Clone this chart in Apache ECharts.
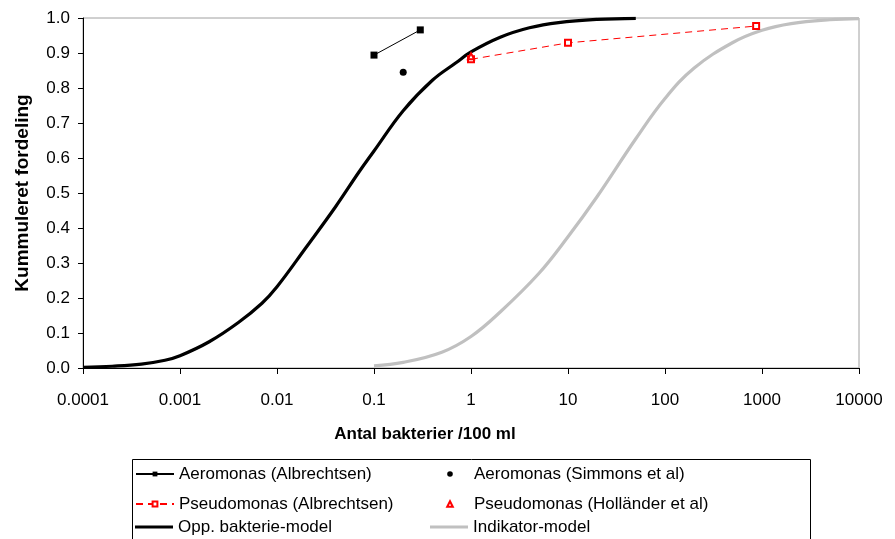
<!DOCTYPE html>
<html>
<head>
<meta charset="utf-8">
<script src="https://cdn.jsdelivr.net/npm/echarts@6/dist/echarts.min.js"></script>
<style>
  html, body { margin: 0; padding: 0; background: #fff; }
  #chart { width: 895px; height: 539px; }
</style>
</head>
<body>
<div id="chart"></div>
<script>
// Tick labels
const xTickLabels = ['0.0001', '0.001', '0.01', '0.1', '1', '10', '100', '1000', '10000'];
const yTickLabels = ['0.0', '0.1', '0.2', '0.3', '0.4', '0.5', '0.6', '0.7', '0.8', '0.9', '1.0'];

// Observed data
const aeroAlbX = [0.1, 0.3];
const aeroAlbY = [0.894, 0.966];
const aeroSimX = [0.2];
const aeroSimY = [0.845];
const pseuAlbX = [1, 10, 870];
const pseuAlbY = [0.882, 0.929, 0.977];
const pseuHolX = [1];
const pseuHolY = [0.891];

// Model curves
const oppX = [0.0001, 0.0002, 0.0004, 0.0007, 0.001, 0.002, 0.004, 0.007, 0.01, 0.02, 0.04, 0.07, 0.1, 0.2, 0.4, 0.7, 1, 2, 4, 8, 20, 50];
const oppY = [0.002, 0.005, 0.011, 0.022, 0.035, 0.075, 0.13, 0.185, 0.232, 0.345, 0.46, 0.56, 0.62, 0.735, 0.822, 0.872, 0.903, 0.945, 0.972, 0.987, 0.996, 0.999];
const indX = [0.1, 0.2, 0.5, 1, 2, 5, 10, 20, 50, 100, 200, 500, 1000, 2000, 5000, 10000];
const indY = [0.006, 0.016, 0.045, 0.09, 0.16, 0.27, 0.375, 0.49, 0.655, 0.77, 0.857, 0.93, 0.965, 0.984, 0.995, 0.998];

const names = [
  'Aeromonas (Albrechtsen)', 'Aeromonas (Simmons et al)',
  'Pseudomonas (Albrechtsen)', 'Pseudomonas (Holländer et al)',
  'Opp. bakterie-model', 'Indikator-model'
];

const zip = (xs, ys) => xs.map((x, i) => [x, ys[i]]);
const FONT = '"Liberation Sans", Arial, sans-serif';

const chart = echarts.init(document.getElementById('chart'), null, { renderer: 'canvas' });

// One legend component per cell of the 3x2 legend table
const colLeft = [135, 430];
const rowTop = [465.5, 495.5, 518.5];
const legendCfg = [
  { name: names[0], itemHeight: 6 },
  { name: names[1], itemHeight: 7, lineStyle: { opacity: 0 } },
  { name: names[2], itemHeight: 6 },
  { name: names[3], itemHeight: 7, lineStyle: { opacity: 0 } },
  { name: names[4], itemHeight: 3, icon: 'rect' },
  { name: names[5], itemHeight: 3, icon: 'rect' }
];
const legends = legendCfg.map((c, i) => {
  const lg = {
    left: colLeft[i % 2],
    top: rowTop[Math.floor(i / 2)],
    padding: 0,
    orient: 'horizontal',
    itemWidth: 38,
    itemHeight: c.itemHeight,
    selectedMode: false,
    textStyle: { fontFamily: FONT, fontSize: 17, color: '#000' },
    data: [c.icon ? { name: c.name, icon: c.icon } : { name: c.name }]
  };
  if (c.lineStyle) lg.lineStyle = c.lineStyle;
  return lg;
});

const option = {
  backgroundColor: '#fff',
  animation: false,
  grid: {
    left: 83, top: 18, width: 776, height: 350,
    show: true, borderColor: '#a0a0a0', borderWidth: 1, backgroundColor: 'transparent'
  },
  xAxis: {
    type: 'log', logBase: 10, min: 0.0001, max: 10000,
    axisLine: { show: true, onZero: false, lineStyle: { color: '#000', width: 1 } },
    axisTick: { show: true, inside: false, length: 6, lineStyle: { color: '#000' } },
    minorTick: { show: false },
    splitLine: { show: false },
    axisLabel: {
      margin: 24, fontFamily: FONT, fontSize: 17, color: '#000',
      formatter: (v, i) => xTickLabels[i]
    }
  },
  yAxis: {
    type: 'value', min: 0, max: 1, interval: 0.1,
    axisLine: { show: true, lineStyle: { color: '#000', width: 1 } },
    axisTick: { show: true, inside: false, length: 5, lineStyle: { color: '#000' } },
    splitLine: { show: false },
    axisLabel: {
      margin: 13, fontFamily: FONT, fontSize: 17, color: '#000',
      formatter: (v, i) => yTickLabels[i]
    }
  },
  legend: legends,
  graphic: [
    {
      type: 'rect', silent: true,
      shape: { x: 132.5, y: 459.5, width: 678, height: 100 },
      style: { fill: 'none', stroke: '#000', lineWidth: 1 }
    },
    {
      type: 'text', silent: true, x: 425, y: 434,
      style: {
        text: 'Antal bakterier /100 ml', font: 'bold 17px ' + FONT,
        fill: '#000', align: 'center', verticalAlign: 'middle'
      }
    },
    {
      type: 'text', silent: true, x: 23, y: 193, rotation: Math.PI / 2,
      style: {
        text: 'Kummuleret fordeling', font: 'bold 19px ' + FONT,
        fill: '#000', align: 'center', verticalAlign: 'middle'
      }
    }
  ],
  series: [
    {
      name: names[4], type: 'line', data: zip(oppX, oppY),
      smooth: 0.4, symbol: 'none', z: 2,
      lineStyle: { color: '#000', width: 3.2 }, itemStyle: { color: '#000' }
    },
    {
      name: names[5], type: 'line', data: zip(indX, indY),
      smooth: 0.4, symbol: 'none', z: 2,
      lineStyle: { color: '#c0c0c0', width: 3.2 }, itemStyle: { color: '#c0c0c0' }
    },
    {
      name: names[0], type: 'line', data: zip(aeroAlbX, aeroAlbY),
      symbol: 'rect', symbolSize: 7, z: 3,
      lineStyle: { color: '#000', width: 1 }, itemStyle: { color: '#000' }
    },
    {
      name: names[1], type: 'line', data: zip(aeroSimX, aeroSimY),
      symbol: 'circle', symbolSize: 7, z: 3,
      lineStyle: { color: '#000', width: 1 }, itemStyle: { color: '#000' }
    },
    {
      name: names[2], type: 'line', data: zip(pseuAlbX, pseuAlbY),
      symbol: 'emptyRect', symbolSize: 6, z: 3,
      lineStyle: { color: '#ff0000', width: 1, type: [7, 5] },
      itemStyle: { color: '#ff0000', borderColor: '#ff0000', borderWidth: 1 }
    },
    {
      name: names[3], type: 'line', data: zip(pseuHolX, pseuHolY),
      symbol: 'emptyTriangle', symbolSize: 6, z: 4,
      lineStyle: { color: '#ff0000', width: 1 },
      itemStyle: { color: '#ff0000', borderColor: '#ff0000', borderWidth: 1 }
    }
  ]
};

chart.setOption(option);
</script>
</body>
</html>
